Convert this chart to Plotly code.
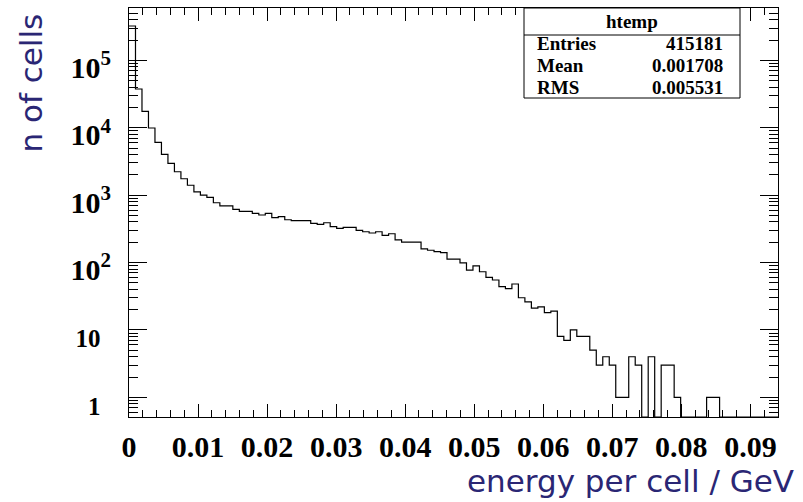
import numpy as np
import plotly.graph_objects as go

# ---------------- data ----------------
x_min, x_max, n_bins = 0.0, 0.094, 100
counts = [
    323000, 37500, 17500, 9900, 6070, 4030, 2960, 2220, 1750, 1400,
    1120, 1000, 925, 770, 690, 690, 615, 575, 575, 537,
    507, 537, 462, 478, 431, 417, 417, 417, 382, 369,
    389, 340, 322, 333, 333, 300, 286, 274, 286, 253,
    267, 216, 201, 201, 201, 159, 152, 145, 140, 112,
    112, 99, 77, 89, 73, 60, 55, 44, 41, 48,
    30, 26, 21, 22, 18, 19, 8, 7, 10, 8,
    8, 5, 3, 4, 3, 1, 1, 4, 3, 0,
    4, 0, 3, 3, 1, 0, 0, 0, 0, 1,
    1, 0, 0, 0, 0, 0, 0, 0, 0, 0,
]
x_tick_vals = [0, 0.01, 0.02, 0.03, 0.04, 0.05, 0.06, 0.07, 0.08, 0.09]
x_tick_text = ["0", "0.01", "0.02", "0.03", "0.04", "0.05", "0.06", "0.07", "0.08", "0.09"]
y_tick_vals = [1, 10, 1e2, 1e3, 1e4, 1e5]
y_tick_text = ["1", "10", "10<sup>2</sup>", "10<sup>3</sup>", "10<sup>4</sup>", "10<sup>5</sup>"]
stats_title = "htemp"
stats_labels = ["Entries", "Mean", "RMS"]
stats_values = ["415181", "0.001708", "0.005531"]
x_title = "energy per cell / GeV"
y_title = "n of cells"

# ---------------- styling ----------------
W, H = 803, 502
ML, MR, MT, MB = 129, 25, 8, 85
PW, PH = W - ML - MR, H - MT - MB
y_lo, y_hi = -0.292, 5.776
title_color = "#2a2674"
serif = "Liberation Serif"


def px_x(p):
    return (p - ML) / PW


def px_y(p):
    return (H - MB - p) / PH


edges = np.linspace(x_min, x_max, n_bins + 1)
floor = 10 ** y_lo
yvals = [c if c > 0 else floor for c in counts]
ystep = yvals + [yvals[-1]]

# plain labels are drawn smaller than the power labels (as in ROOT), and padded
# with an invisible superscript so that they line up the same way
pad = '<sup><span style="color:rgba(0,0,0,0)">0</span></sup>'
y_text = [t if "<sup>" in t else '<span style="font-size:25px">' + t + '</span>' + pad
          for t in y_tick_text]

minor_y = [m * 10 ** k for k in range(-1, 6) for m in range(2, 10)]
minor_y = [v for v in minor_y if 10 ** y_lo <= v <= 10 ** y_hi]

fig = go.Figure()
fig.add_trace(go.Scatter(
    x=edges, y=ystep, mode="lines", line=dict(color="black", width=1.2, shape="hv"),
    hoverinfo="skip", showlegend=False,
))

fig.update_layout(
    width=W, height=H,
    margin=dict(l=ML, r=MR, t=MT, b=MB),
    paper_bgcolor="white", plot_bgcolor="white",
    showlegend=False,
    xaxis=dict(
        range=[x_min, x_max], showgrid=False, zeroline=False,
        showline=True, linecolor="black", linewidth=1, mirror="allticks",
        tickmode="array", tickvals=x_tick_vals, ticktext=x_tick_text,
        ticks="inside", ticklen=13, tickwidth=1, tickcolor="black",
        minor=dict(ticks="inside", ticklen=7, tickwidth=1, tickcolor="black",
                   dtick=0.002, tick0=0, showgrid=False),
        tickfont=dict(family=serif, size=30, color="black", weight="bold"),
        ticklabelstandoff=3,
    ),
    yaxis=dict(
        type="log", range=[y_lo, y_hi], showgrid=False, zeroline=False,
        showline=True, linecolor="black", linewidth=1, mirror="allticks",
        tickmode="array", tickvals=y_tick_vals, ticktext=y_text,
        ticks="inside", ticklen=18, tickwidth=1, tickcolor="black",
        minor=dict(ticks="inside", ticklen=9, tickwidth=1, tickcolor="black",
                   tickmode="array", tickvals=minor_y, showgrid=False),
        tickfont=dict(family=serif, size=30, color="black", weight="bold"),
        ticklabelstandoff=11,
        ticklabelshift=7,
    ),
)

# axis titles (ROOT aligns them to the axis ends)
fig.add_annotation(text=x_title, xref="paper", yref="paper",
                   x=px_x(796), y=px_y(481), xanchor="right", yanchor="middle",
                   showarrow=False, font=dict(family="DejaVu Sans", size=31, color=title_color))
fig.add_annotation(text=y_title, xref="paper", yref="paper", textangle=-90,
                   x=px_x(30), y=px_y(12), xanchor="center", yanchor="top",
                   showarrow=False, font=dict(family="DejaVu Sans", size=31, color=title_color))

# stats box
bx0, bx1 = px_x(524), px_x(740)
by0, by1, bsep = px_y(98), 1.0, px_y(35)
fig.add_shape(type="rect", xref="paper", yref="paper", x0=bx0, x1=bx1, y0=by0, y1=by1,
              line=dict(color="black", width=1), fillcolor="white", layer="above")
fig.add_shape(type="line", xref="paper", yref="paper", x0=bx0, x1=bx1, y0=bsep, y1=bsep,
              line=dict(color="black", width=1), layer="above")
sfont = dict(family=serif, size=19, color="black", weight="bold")
fig.add_annotation(text=stats_title, xref="paper", yref="paper", x=(bx0 + bx1) / 2,
                   y=px_y(21.7), xanchor="center", yanchor="middle", showarrow=False, font=sfont)
row_y = [43.3, 65.7, 87.3]
for lab, val, ry in zip(stats_labels, stats_values, row_y):
    fig.add_annotation(text=lab, xref="paper", yref="paper", x=px_x(535), y=px_y(ry),
                       xanchor="left", yanchor="middle", showarrow=False, font=sfont)
    fig.add_annotation(text=val, xref="paper", yref="paper", x=px_x(725), y=px_y(ry),
                       xanchor="right", yanchor="middle", showarrow=False, font=sfont)

fig.write_html("out.html")
